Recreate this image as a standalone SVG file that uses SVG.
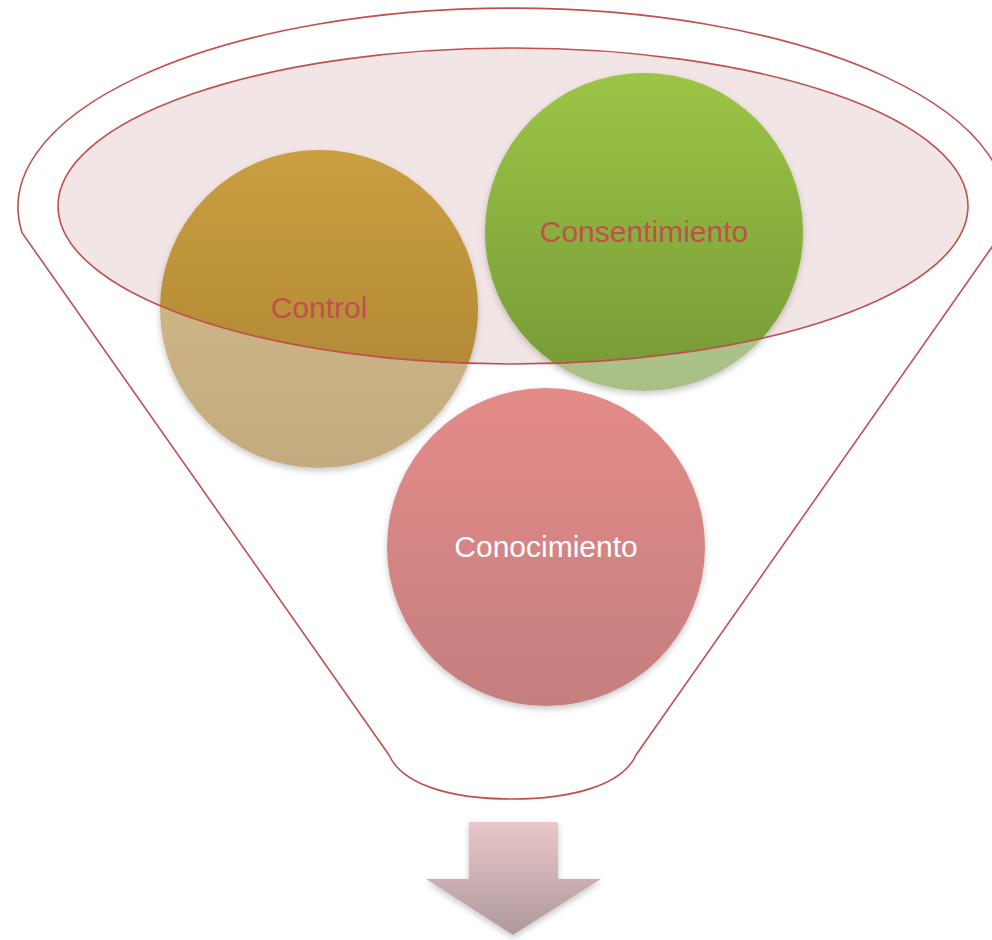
<svg xmlns="http://www.w3.org/2000/svg" width="992" height="940" viewBox="0 0 992 940">
<style>
.line{fill:none;stroke:#C0504D;stroke-width:1.6}
.lbl{font-family:"Liberation Sans",Arial,sans-serif;font-size:30px;text-anchor:middle}
.red{fill:#C0504D}
.white{fill:#FFFFFF}
</style>
<defs>
<linearGradient id="gCtl" x1="0" y1="0" x2="0" y2="1"><stop offset="0" stop-color="#CA9E41"/><stop offset="1" stop-color="#A98232"/></linearGradient>
<linearGradient id="gCtlF" x1="0" y1="0" x2="0" y2="1"><stop offset="0" stop-color="#D6BE8C"/><stop offset="1" stop-color="#C2AB7E"/></linearGradient>
<linearGradient id="gCon" x1="0" y1="0" x2="0" y2="1"><stop offset="0" stop-color="#9CC546"/><stop offset="1" stop-color="#759936"/></linearGradient>
<linearGradient id="gConF" x1="0" y1="0" x2="0" y2="1"><stop offset="0" stop-color="#BCD49A"/><stop offset="1" stop-color="#A9BF86"/></linearGradient>
<linearGradient id="gCono" x1="0" y1="0" x2="0" y2="1"><stop offset="0" stop-color="#E48B89"/><stop offset="1" stop-color="#C47F7F"/></linearGradient>
<linearGradient id="gArr" x1="0" y1="0" x2="0" y2="1"><stop offset="0" stop-color="#E8C8CA"/><stop offset="1" stop-color="#B0989B"/></linearGradient>
<clipPath id="clipE"><ellipse cx="513" cy="206" rx="455" ry="158"/></clipPath>
<filter id="sh" x="-10%" y="-10%" width="120%" height="125%"><feDropShadow dx="0" dy="3" stdDeviation="3" flood-color="#000" flood-opacity="0.22"/></filter>
</defs>
<g id="funnel">
<path class="line" d="M22.2 233 A494 199 0 1 1 1001.8 233 L636 755 C622 786 570 799 512 799 C454 799 403 786 389 755 Z"/>
</g>
<g id="funnel-top">
<ellipse cx="513" cy="206" rx="455" ry="158" fill="#F2E5E6"/>
</g>
<g id="control">
<circle cx="319" cy="309" r="159" fill="url(#gCtlF)" filter="url(#sh)"/>
<circle cx="319" cy="309" r="159" fill="url(#gCtl)" clip-path="url(#clipE)"/>
</g>
<g id="consentimiento">
<circle cx="644" cy="232" r="159" fill="url(#gConF)" filter="url(#sh)"/>
<circle cx="644" cy="232" r="159" fill="url(#gCon)" clip-path="url(#clipE)"/>
</g>
<g id="funnel-rim">
<ellipse class="line" cx="513" cy="206" rx="455" ry="158"/>
</g>
<g id="control-label"><text class="lbl red" x="319" y="318">Control</text></g>
<g id="consentimiento-label"><text class="lbl red" x="644" y="242">Consentimiento</text></g>
<g id="conocimiento">
<circle cx="546" cy="547" r="159" fill="url(#gCono)" filter="url(#sh)"/>
<text class="lbl white" x="546" y="557">Conocimiento</text>
</g>
<g id="connectors">
<path d="M469 822 H558 V879 H601 L513 935 L426 879 H469 Z" fill="url(#gArr)" filter="url(#sh)"/>
</g>
</svg>
